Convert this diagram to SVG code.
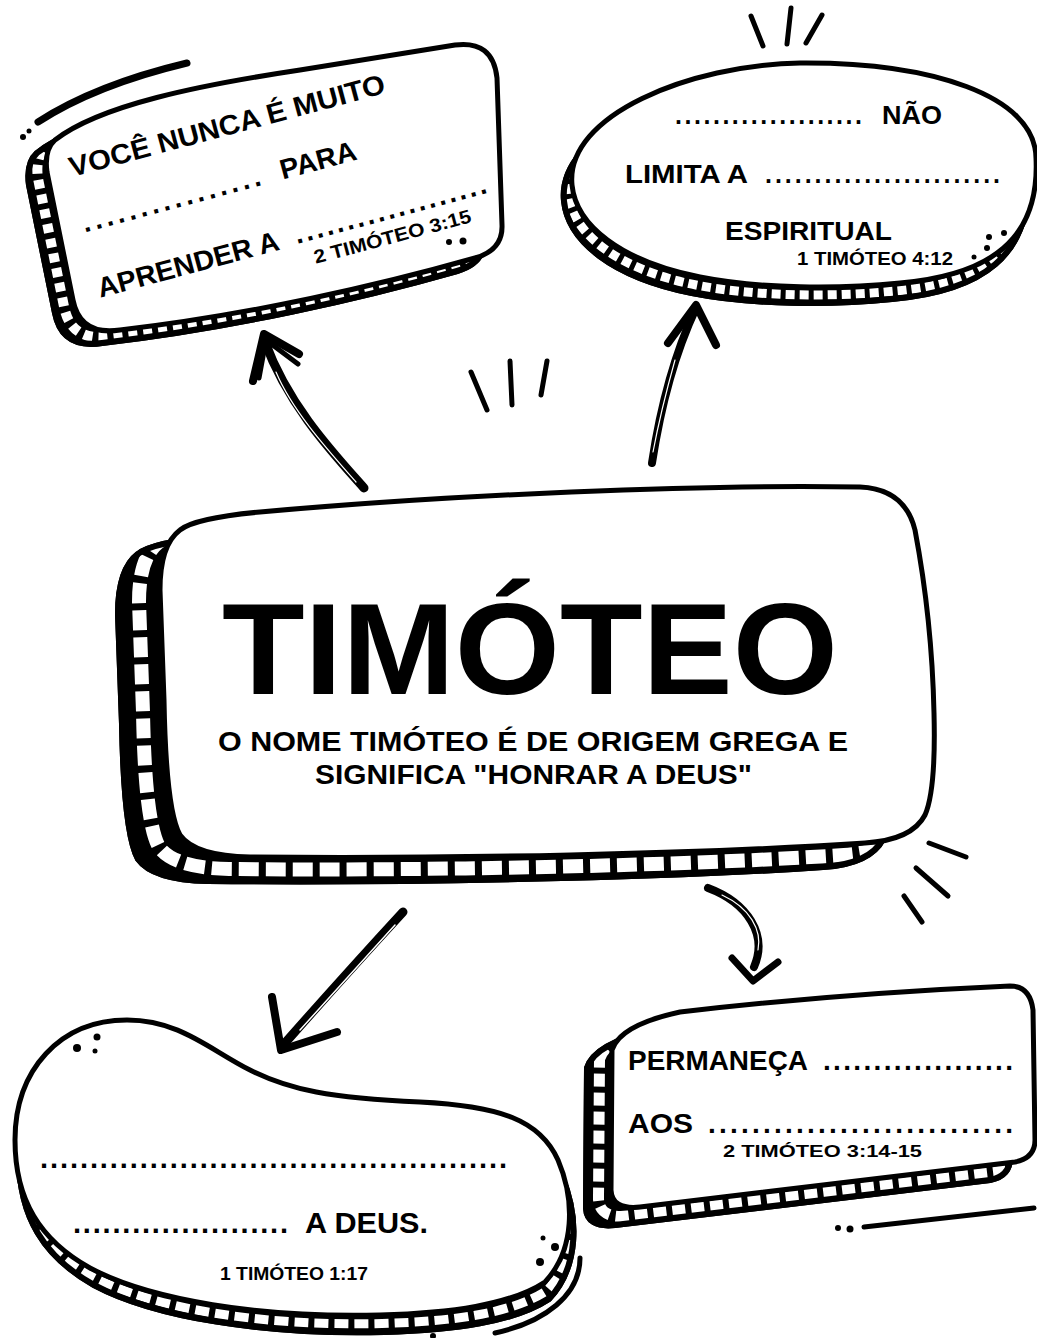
<svg xmlns="http://www.w3.org/2000/svg" xmlns:xlink="http://www.w3.org/1999/xlink" width="1037" height="1338" viewBox="0 0 1037 1338">
<style>
.ink{fill:none;stroke:#000;stroke-linecap:round;stroke-linejoin:round}
.face{fill:#fff;stroke:#000;stroke-width:5;stroke-linejoin:round}
.back{fill:#000;stroke:#000;stroke-width:6;stroke-linejoin:round}
.rim{fill:none;stroke:#000;stroke-width:6;stroke-linejoin:round}
.film{fill:none;stroke:#fff}
.t{font-family:"Liberation Sans",Arial,sans-serif;font-weight:700;fill:#000}
.dot{fill:#000}
.gap{fill:none;stroke:#fff;stroke-linecap:round}
</style>
<defs>
<path id="tlShape" d="M 55 140 C 100 105 200 85 300 70 L 455 45 Q 493 40 497 78 L 502 225 Q 503 250 475 258 C 380 285 250 315 120 330 Q 80 336 73 300 L 47 172 Q 44 150 55 140 Z"/>
<path id="trShape" d="M 572 185 C 565 115 690 65 800 63 C 930 62 1035 95 1036 158 C 1040 240 990 275 900 283 C 840 289 760 289 700 277 C 620 261 576 225 572 185 Z"/>
<path id="cShape" d="M 180 530 Q 195 518 260 512 C 450 495 700 484 860 487 Q 905 489 915 530 Q 932 620 934 713 Q 936 790 925 815 Q 912 840 865 843 C 700 854 450 859 250 857 Q 195 856 180 835 Q 166 810 164 700 L 160 590 Q 160 545 180 530 Z"/>
<path id="blShape" d="M 127 1020 C 180 1020 210 1050 250 1070 C 290 1090 330 1098 420 1102 C 500 1106 540 1120 558 1160 C 575 1200 575 1250 545 1282 C 510 1305 450 1313 380 1315 C 260 1318 150 1300 90 1268 C 40 1240 15 1200 15 1140 C 15 1070 60 1020 127 1020 Z"/>
<path id="brShape" d="M 612 1050 Q 620 1025 680 1012 C 800 998 920 990 1010 986 Q 1030 986 1033 1010 L 1035 1140 Q 1035 1158 1015 1162 L 640 1207 Q 612 1210 611 1190 Z"/>
<clipPath id="tlClip"><use xlink:href="#tlShape" transform="translate(-18,13)"/></clipPath>
<clipPath id="trClip"><use xlink:href="#trShape" transform="translate(-8,16)"/></clipPath>
<clipPath id="cClip"><use xlink:href="#cShape" transform="translate(-42,24)"/></clipPath>
<clipPath id="blClip"><use xlink:href="#blShape" transform="translate(4,17)"/></clipPath>
<clipPath id="brClip"><use xlink:href="#brShape" transform="translate(-25,18)"/></clipPath>
</defs>
<rect x="0" y="0" width="1037" height="1338" fill="#fff"/>

<g id="node-top-left">
<use xlink:href="#tlShape" class="back" transform="translate(-18,13)"/>
<g clip-path="url(#tlClip)"><use xlink:href="#tlShape" class="film" stroke-width="10" stroke-dasharray="9 6" transform="translate(-9,6.5)"/></g>
<use xlink:href="#tlShape" class="rim" transform="translate(-18,13)"/>
<use xlink:href="#tlShape" class="face"/>
<g transform="translate(72,177) rotate(-15)">
<text class="t" x="0" y="0" font-size="28" textLength="326" lengthAdjust="spacingAndGlyphs">VOCÊ NUNCA É MUITO</text>
<text class="t" x="-2" y="57" font-size="28" textLength="184">................</text>
<text class="t" x="203" y="57" font-size="28" textLength="78" lengthAdjust="spacingAndGlyphs">PARA</text>
<text class="t" x="-4" y="124" font-size="28" textLength="187" lengthAdjust="spacingAndGlyphs">APRENDER A</text>
<text class="t" x="200" y="123" font-size="28" textLength="198">...................</text>
<text class="t" x="213" y="147" font-size="19" textLength="162" lengthAdjust="spacingAndGlyphs">2 TIMÓTEO 3:15</text>
</g>
</g>

<g id="node-top-right">
<use xlink:href="#trShape" class="back" transform="translate(-8,16)"/>
<g clip-path="url(#trClip)"><use xlink:href="#trShape" class="film" stroke-width="9" stroke-dasharray="9 5" transform="translate(-4,8)"/></g>
<use xlink:href="#trShape" class="rim" transform="translate(-8,16)"/>
<use xlink:href="#trShape" class="face"/>
<text class="t" x="675" y="124" font-size="25" textLength="187">....................</text>
<text class="t" x="882" y="124" font-size="25" textLength="60" lengthAdjust="spacingAndGlyphs">NÃO</text>
<text class="t" x="625" y="183" font-size="25" textLength="123" lengthAdjust="spacingAndGlyphs">LIMITA A</text>
<text class="t" x="765" y="183" font-size="25" textLength="235">........................</text>
<text class="t" x="725" y="240" font-size="25" textLength="167" lengthAdjust="spacingAndGlyphs">ESPIRITUAL</text>
<text class="t" x="797" y="265" font-size="18" textLength="156" lengthAdjust="spacingAndGlyphs">1 TIMÓTEO 4:12</text>
</g>

<g id="node-center">
<use xlink:href="#cShape" class="back" transform="translate(-42,24)"/>
<g clip-path="url(#cClip)"><use xlink:href="#cShape" class="film" stroke-width="14" stroke-dasharray="20 7" transform="translate(-21,12)"/></g>
<use xlink:href="#cShape" class="rim" transform="translate(-42,24)"/>
<use xlink:href="#cShape" class="face" stroke-width="6"/>
<text class="t" x="222" y="694" font-size="130" textLength="616" lengthAdjust="spacingAndGlyphs">TIMÓTEO</text>
<text class="t" x="218" y="751" font-size="27" textLength="630" lengthAdjust="spacingAndGlyphs">O NOME TIMÓTEO É DE ORIGEM GREGA E</text>
<text class="t" x="315" y="784" font-size="27" textLength="437" lengthAdjust="spacingAndGlyphs">SIGNIFICA "HONRAR A DEUS"</text>
</g>

<g id="node-bottom-left">
<use xlink:href="#blShape" class="back" transform="translate(4,17)"/>
<g clip-path="url(#blClip)"><use xlink:href="#blShape" class="film" stroke-width="9" stroke-dasharray="14 6" transform="translate(2,8.5)"/></g>
<use xlink:href="#blShape" class="rim" transform="translate(4,17)"/>
<use xlink:href="#blShape" class="face"/>
<text class="t" x="40" y="1168" font-size="29" textLength="467">...............................................</text>
<text class="t" x="73" y="1233" font-size="29" textLength="215">......................</text>
<text class="t" x="305" y="1233" font-size="29" textLength="123" lengthAdjust="spacingAndGlyphs">A DEUS.</text>
<text class="t" x="220" y="1280" font-size="18" textLength="148" lengthAdjust="spacingAndGlyphs">1 TIMÓTEO 1:17</text>
</g>

<g id="node-bottom-right">
<use xlink:href="#brShape" class="back" transform="translate(-25,18)"/>
<g clip-path="url(#brClip)"><use xlink:href="#brShape" class="film" stroke-width="11" stroke-dasharray="13 6" transform="translate(-12.5,9)"/></g>
<use xlink:href="#brShape" class="rim" transform="translate(-25,18)"/>
<use xlink:href="#brShape" class="face"/>
<text class="t" x="628" y="1070" font-size="28" textLength="180" lengthAdjust="spacingAndGlyphs">PERMANEÇA</text>
<text class="t" x="823" y="1070" font-size="28" textLength="190">...................</text>
<text class="t" x="628" y="1133" font-size="28" textLength="65" lengthAdjust="spacingAndGlyphs">AOS</text>
<text class="t" x="708" y="1133" font-size="28" textLength="305">............................</text>
<text class="t" x="723" y="1157" font-size="17" textLength="199" lengthAdjust="spacingAndGlyphs">2 TIMÓTEO 3:14-15</text>
</g>

<g id="decor">
<path class="ink" stroke-width="7" d="M 38 122 Q 95 85 187 63"/>
<circle class="dot" cx="23" cy="137" r="3"/>
<circle class="dot" cx="29" cy="131" r="2.5"/>
<circle class="dot" cx="449" cy="242" r="3"/>
<circle class="dot" cx="463" cy="241" r="3.5"/>
<path class="ink" stroke-width="5" d="M 751 16 L 763 46"/>
<path class="ink" stroke-width="5" d="M 791 8 L 787 44"/>
<path class="ink" stroke-width="5" d="M 822 15 L 806 43"/>
<circle class="dot" cx="989" cy="237" r="3"/>
<circle class="dot" cx="1004" cy="233" r="3"/>
<circle class="dot" cx="987" cy="248" r="3"/>
<circle class="dot" cx="974" cy="257" r="2.5"/>
<path class="ink" stroke-width="5" d="M 471 372 L 487 410"/>
<path class="ink" stroke-width="5" d="M 510 361 L 512 405"/>
<path class="ink" stroke-width="5" d="M 547 361 L 541 395"/>
<path class="ink" stroke-width="5" d="M 929 843 L 966 857"/>
<path class="ink" stroke-width="5" d="M 916 868 L 948 896"/>
<path class="ink" stroke-width="5" d="M 904 896 L 922 922"/>
<circle class="dot" cx="77" cy="1048" r="4"/>
<circle class="dot" cx="97" cy="1037" r="3.5"/>
<circle class="dot" cx="95" cy="1051" r="2.5"/>
<circle class="dot" cx="543" cy="1238" r="2.5"/>
<circle class="dot" cx="555" cy="1247" r="4"/>
<circle class="dot" cx="540" cy="1262" r="4"/>
<path class="ink" stroke-width="5" d="M 580 1258 C 580 1295 545 1322 495 1333"/>
<circle class="dot" cx="433" cy="1336" r="3"/>
<circle class="dot" cx="838" cy="1228" r="3"/>
<circle class="dot" cx="850" cy="1229" r="3.5"/>
<path class="ink" stroke-width="5" d="M 864 1227 L 1034 1208"/>
</g>

<g id="connectors">
<path class="ink" stroke-width="9" d="M 364 488 C 332 452 288 405 265 342"/>
<path class="gap" stroke-width="1.2" d="M 356 482 C 326 448 292 410 276 372"/>
<path class="ink" stroke-width="8" d="M 253 381 L 264 334 L 299 354"/>
<path class="ink" stroke-width="5" d="M 259 378 L 266 340 L 298 364"/>
<path class="ink" stroke-width="8" d="M 652 463 C 660 410 674 355 696 308"/>
<path class="gap" stroke-width="1.2" d="M 653 452 C 660 415 668 385 675 360"/>
<path class="ink" stroke-width="8" d="M 668 343 L 696 305 L 716 345"/>
<path class="ink" stroke-width="9" d="M 403 912 Q 345 975 285 1043"/>
<path class="gap" stroke-width="1.5" d="M 395 925 Q 345 980 300 1030"/>
<path class="ink" stroke-width="8" d="M 272 997 L 281 1050 L 337 1032"/>
<path class="ink" stroke-width="8" d="M 708 888 C 748 903 768 935 754 967"/>
<path class="gap" stroke-width="1.2" d="M 722 895 C 750 908 762 930 758 950"/>
<path class="ink" stroke-width="7" d="M 732 958 L 753 981 L 778 962"/>
</g>
</svg>
